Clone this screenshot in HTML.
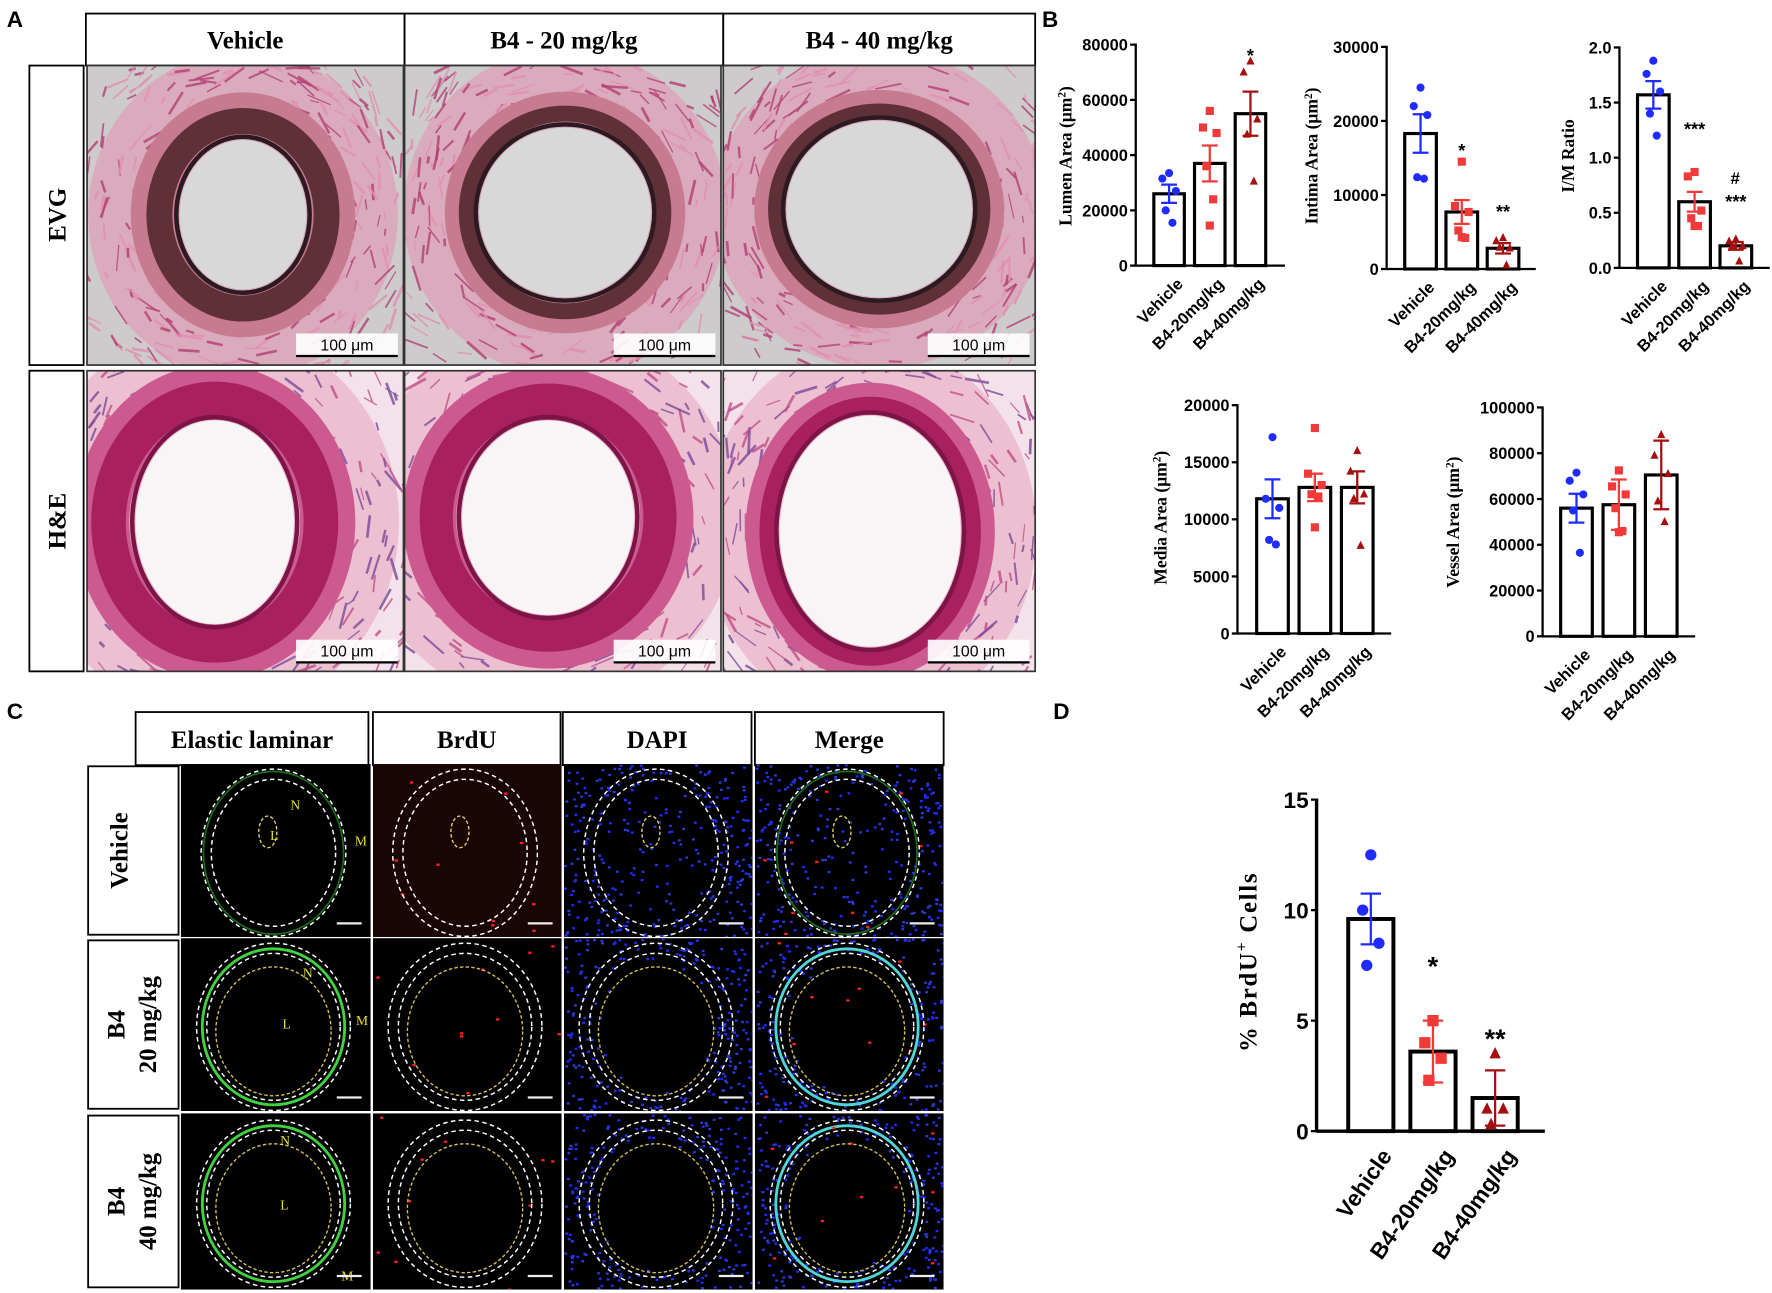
<!DOCTYPE html>
<html><head><meta charset="utf-8"><style>
html,body{margin:0;padding:0;background:#fff;}
svg{display:block;}
.plabel{font-family:"Liberation Sans",sans-serif;font-weight:bold;font-size:20px;}
</style></head><body>
<svg id="fig" xmlns="http://www.w3.org/2000/svg" width="1772" height="1293" viewBox="0 0 1568 1144" preserveAspectRatio="none">
<rect x="0" y="0" width="1568" height="1144" fill="#fff"/>
<g id="panelA"></g>
<g id="panelC"></g>
<g id="charts"></g>
<text class="plabel" x="6" y="24">A</text>
<text class="plabel" x="922" y="24">B</text>
<text class="plabel" x="6" y="636">C</text>
<text class="plabel" x="932" y="636">D</text>
</svg>
<script>
// ---------- chart data ----------
const groups = ["Vehicle", "B4-20mg/kg", "B4-40mg/kg"];
const lumenMeans = [26000, 37000, 55000];
const lumenSem = [3300, 6500, 8000];
const lumenPts = [[33500, 31500, 27000, 20000, 15500], [56000, 50000, 48000, 36000, 24000, 14500], [74000, 70000, 53000, 47500, 30500]];
const lumenTicks = [0, 20000, 40000, 60000, 80000];
const lumenStars = ["", "", "*"];

const intimaMeans = [18300, 7700, 2800];
const intimaSem = [2600, 1600, 700];
const intimaPts = [[24500, 22000, 20800, 12400, 12200], [14500, 8500, 7700, 5200, 4200, 4300], [4200, 3800, 2800, 2900, 500]];
const intimaTicks = [0, 10000, 20000, 30000];
const intimaStars = ["", "*", "**"];

const imMeans = [1.57, 0.60, 0.20];
const imSem = [0.125, 0.09, 0.035];
const imPts = [[1.88, 1.76, 1.6, 1.4, 1.2], [0.87, 0.83, 0.52, 0.45, 0.38, 0.38], [0.26, 0.24, 0.2, 0.2, 0.06]];
const imTicks = [0.0, 0.5, 1.0, 1.5, 2.0];
const imStars = ["", "***", "***"];

const mediaMeans = [11800, 12800, 12800];
const mediaSem = [1700, 1200, 1400];
const mediaPts = [[17200, 11800, 11000, 8200, 7800], [18000, 14000, 13000, 12200, 12000, 9300], [16000, 14200, 12200, 11800, 7700]];
const mediaTicks = [0, 5000, 10000, 15000, 20000];

const vesselMeans = [56000, 57500, 70500];
const vesselSem = [6300, 11000, 15000];
const vesselPts = [[71500, 68000, 62000, 55000, 36500], [72500, 65500, 62000, 56000, 46000, 45500], [88000, 79000, 71000, 59000, 50000]];
const vesselTicks = [0, 20000, 40000, 60000, 80000, 100000];

const brduMeans = [9.6, 3.6, 1.5];
const brduSem = [1.15, 1.4, 1.25];
const brduPts = [[12.5, 10.0, 8.5, 7.5], [5.0, 4.0, 3.3, 2.3], [3.5, 1.0, 1.0, 0.3]];
const brduTicks = [0, 5, 10, 15];
const brduStars = ["", "*", "**"];

const NS = "http://www.w3.org/2000/svg";
function mk(tag, attrs, parent) {
  const e = document.createElementNS(NS, tag);
  for (const k in attrs) e.setAttribute(k, attrs[k]);
  if (parent) parent.appendChild(e);
  return e;
}
const colors = ["#1f2bff", "#f03a3a", "#a50f0f"];
const jit = [0, -6, 6, -3, 3, 0];

function drawChart(o) {
  const g = mk("g", {}, document.getElementById("charts"));
  
  
  const ys = v => o.y0 - v / o.ymax * (o.y0 - o.ytop);
  const fs = o.big ? 20 : 14.5;
  const ya = mk("line", {x1: o.xa, y1: o.ytop - 1, x2: o.xa, y2: o.y0 + 1, stroke: "#000", "stroke-width": o.big ? 3 : 2}, g);
  
  
  const xa = mk("line", {x1: o.xa, y1: o.y0, x2: o.xb, y2: o.y0, stroke: "#000", "stroke-width": o.big ? 3 : 2}, g);
  
  
  o.ticks.forEach(t => {
    const y = ys(t);
    mk("line", {x1: o.xa - 5, y1: y, x2: o.xa, y2: y, stroke: "#000", "stroke-width": 2}, g);
    const tx = mk("text", {x: o.xa - 7, y: y + fs * 0.36, "text-anchor": "end", "font-family": "Liberation Sans, sans-serif", "font-weight": "bold", "font-size": fs}, g);
    tx.textContent = o.fmt ? o.fmt(t) : t;
    
    
  });
  groups.forEach((grp, i) => {
    const x = o.bs + i * o.step, cx = x + o.bw / 2;
    const b = mk("rect", {x: x, y: ys(o.means[i]), width: o.bw, height: o.y0 - ys(o.means[i]), fill: "#fff", stroke: "#000", "stroke-width": o.big ? 3.5 : 2.8}, g);
    
    
    const c = colors[i];
    o.pts[i].forEach((v, j) => {
      const px = cx + jit[j % jit.length] * (o.big ? 1.2 : 1), py = ys(v);
      const r = o.big ? 5 : 3.6;
      let m;
      if (i === 0) m = mk("circle", {cx: px, cy: py, r: r, fill: c}, g);
      else if (i === 1) m = mk("rect", {x: px - r, y: py - r, width: 2 * r, height: 2 * r, fill: c}, g);
      else m = mk("polygon", {points: `${px},${py - r * 1.2} ${px - r},${py + r * 0.8} ${px + r},${py + r * 0.8}`, fill: c}, g);
      
      
    });
    const hi = ys(o.means[i] + o.sem[i]), lo = ys(o.means[i] - o.sem[i]);
    const cw = o.big ? 9 : 7;
    const eb = mk("path", {d: `M${cx},${hi}V${lo}M${cx - cw},${hi}H${cx + cw}M${cx - cw},${lo}H${cx + cw}`, stroke: c, "stroke-width": 2, fill: "none"}, g);
    
    
    if (o.stars && o.stars[i]) {
      const st = mk("text", {x: cx, y: ys(o.means[i] + o.sem[i]) - o.starOff[i], "text-anchor": "middle", "font-family": "Liberation Sans, sans-serif", "font-weight": "bold", "font-size": o.big ? 24 : 16}, g);
      st.textContent = o.stars[i];
      
      
    }
    const lx = cx + (o.big ? 8 : 6), ly = o.y0 + (o.big ? 14 : 10);
    const tl = mk("text", {x: lx, y: ly, "text-anchor": "end", transform: `rotate(${o.big ? -55 : -45} ${lx} ${ly})`, "font-family": "Liberation Sans, sans-serif", "font-weight": "bold", "font-size": o.big ? 20 : 14.5, dy: "0.7em"}, g);
    tl.textContent = grp;
    
    
  });
  const t = mk("text", {x: o.tx, y: o.ty, "text-anchor": "middle", transform: `rotate(-90 ${o.tx} ${o.ty})`, "font-family": "Liberation Serif, serif", "font-weight": "bold", "font-size": o.big ? 22 : 15.5, "letter-spacing": o.big ? 1.5 : 0}, g);
  t.innerHTML = o.title;
  
  
  return {g, ys};
}
const mu = 'Area (μm<tspan dy="-5" font-size="10">2</tspan><tspan dy="5">)</tspan>';
drawChart({name: "lumen-area-chart", xa: 1005, xb: 1137, ytop: 39.5, y0: 235, ymax: 80000, ticks: lumenTicks, bs: 1021, step: 36, bw: 27, means: lumenMeans, sem: lumenSem, pts: lumenPts, stars: lumenStars, starOff: [0, 0, 26], tx: 948, ty: 138, title: "Lumen " + mu});
drawChart({name: "intima-area-chart", xa: 1227, xb: 1359, ytop: 41.5, y0: 238, ymax: 30000, ticks: intimaTicks, bs: 1243, step: 36.5, bw: 28, means: intimaMeans, sem: intimaSem, pts: intimaPts, stars: intimaStars, starOff: [0, 38, 22], tx: 1166, ty: 138, title: "Intima " + mu});
const im = drawChart({name: "im-ratio-chart", xa: 1433, xb: 1566, ytop: 42, y0: 237, ymax: 2.0, ticks: imTicks, fmt: v => v.toFixed(1), bs: 1449, step: 36.5, bw: 28, means: imMeans, sem: imSem, pts: imPts, stars: imStars, starOff: [0, 50, 30], tx: 1393, ty: 138, title: "I/M Ratio"});
(function(){ const h = mk("text", {x: 1535.5, y: 163, "text-anchor": "middle", "font-family": "Liberation Sans, sans-serif", "font-weight": "bold", "font-size": 15}, im.g); h.textContent = "#";

 })();
drawChart({name: "media-area-chart", xa: 1095, xb: 1231, ytop: 358.5, y0: 560.5, ymax: 20000, ticks: mediaTicks, bs: 1112, step: 37.5, bw: 28, means: mediaMeans, sem: mediaSem, pts: mediaPts, tx: 1032, ty: 458, title: "Media " + mu});
drawChart({name: "vessel-area-chart", xa: 1365, xb: 1500, ytop: 360.5, y0: 563, ymax: 100000, ticks: vesselTicks, bs: 1381, step: 37.5, bw: 28, means: vesselMeans, sem: vesselSem, pts: vesselPts, tx: 1291, ty: 462, title: "Vessel " + mu});
drawChart({name: "brdu-cells-chart", big: true, xa: 1165, xb: 1367, ytop: 707.5, y0: 1000.8, ymax: 15, ticks: brduTicks, bs: 1193, step: 55, bw: 40, means: brduMeans, sem: brduSem, pts: brduPts, stars: brduStars, starOff: [0, 40, 20], tx: 1112, ty: 851, title: '% BrdU<tspan dy="-9" font-size="14">+</tspan><tspan dy="9"> Cells</tspan>'});

// ---------- decorative histology (seeded) ----------
let seed = 7;
function rnd() { seed = (seed * 16807) % 2147483647; return seed / 2147483647; }
const A = document.getElementById("panelA");
function box(x, y, w, h, parent, name) {
  const r = mk("rect", {x, y, width: w, height: h, fill: "#fff", stroke: "#000", "stroke-width": 1.6}, parent);
  
  
  return r;
}
function label(txt, x, y, parent, rot, size, name) {
  const t = mk("text", {x, y, "text-anchor": "middle", "font-family": "Liberation Serif, serif", "font-weight": "bold", "font-size": size || 22}, parent);
  if (rot) t.setAttribute("transform", `rotate(-90 ${x} ${y})`);
  t.textContent = txt;
  
  
  return t;
}
[["Vehicle", 76, 282], ["B4 - 20 mg/kg", 358, 282], ["B4 - 40 mg/kg", 640, 276]].forEach(([t, x, w]) => {
  box(x, 12, w, 46, A, 'column-header-box');
  label(t, x + w / 2, 43, A, false, 22, 'column-header');
});
box(26, 58, 48, 265, A, 'row-header-box'); label("EVG", 58, 190, A, true, 22, 'row-header');
box(26, 328, 48, 266, A, 'row-header-box'); label("H&E", 58, 461, A, true, 22, 'row-header');
const cells = [
  {x: 77, y: 58, w: 280, h: 265, t: "evg", cx: 215, cy: 190, lr: [56, 66], or: [92, 100]},
  {x: 358, y: 58, w: 280, h: 265, t: "evg", cx: 500, cy: 188, lr: [76, 75], or: [98, 100]},
  {x: 640, y: 58, w: 276, h: 265, t: "evg", cx: 778, cy: 185, lr: [82, 78], or: [102, 96]},
  {x: 77, y: 328, w: 280, h: 266, t: "he", cx: 190, cy: 462, lr: [70, 90], or: [118, 128]},
  {x: 358, y: 328, w: 280, h: 266, t: "he", cx: 485, cy: 458, lr: [76, 86], or: [122, 122]},
  {x: 640, y: 328, w: 276, h: 266, t: "he", cx: 770, cy: 470, lr: [80, 102], or: [102, 122]}
];
cells.forEach((c, k) => {
  const g = mk("g", {}, A);
  
  
  const cid = "clip" + k;
  const cp = mk("clipPath", {id: cid}, g); mk("rect", {x: c.x, y: c.y, width: c.w, height: c.h}, cp);
  const gi = mk("g", {"clip-path": `url(#${cid})`}, g);
  const evg = c.t === "evg";
  mk("rect", {x: c.x, y: c.y, width: c.w, height: c.h, fill: evg ? "#cdcbcc" : "#f3e2e9"}, gi);
  mk("ellipse", {cx: c.cx, cy: c.cy, rx: c.or[0] + 45, ry: c.or[1] + 45, fill: evg ? "#dca5ba" : "#eab9cc", opacity: 0.85}, gi);
  for (let i = 0; i < 320; i++) {
    const a = rnd() * Math.PI * 2, rr = 0.9 + rnd() * 0.85;
    const x = c.cx + Math.cos(a) * c.or[0] * rr, y = c.cy + Math.sin(a) * c.or[1] * rr;
    const l = 6 + rnd() * 18, d = a + Math.PI / 2 + (rnd() - 0.5);
    mk("line", {x1: x, y1: y, x2: x + Math.cos(d) * l, y2: y + Math.sin(d) * l, stroke: evg ? (rnd() < 0.5 ? "#b33f73" : "#e28fb0") : (rnd() < 0.5 ? "#c24e86" : "#7a4a9a"), "stroke-width": 1 + rnd() * 1.5, opacity: 0.8}, gi);
  }
  const mr = [(c.lr[0] + c.or[0]) / 2, (c.lr[1] + c.or[1]) / 2];
  const mw = (c.or[0] - c.lr[0]) * 0.85;
  mk("ellipse", {cx: c.cx, cy: c.cy, rx: mr[0] + 6, ry: mr[1] + 6, fill: "none", stroke: evg ? "#c77b90" : "#cc5a8f", "stroke-width": mw + 8}, gi);
  mk("ellipse", {cx: c.cx, cy: c.cy, rx: mr[0], ry: mr[1], fill: "none", stroke: evg ? "#5f3038" : "#a8215e", "stroke-width": mw * 0.75}, gi);
  mk("ellipse", {cx: c.cx, cy: c.cy, rx: c.lr[0] + 3, ry: c.lr[1] + 3, fill: "none", stroke: evg ? "#2b1a1f" : "#7d1446", "stroke-width": 4}, gi);
  mk("ellipse", {cx: c.cx, cy: c.cy, rx: c.lr[0], ry: c.lr[1], fill: evg ? "#d9d8d9" : "#f8f5f6"}, gi);
  const bx = c.x + c.w - 95, by = c.y + c.h - 8;
  mk("rect", {x: bx, y: by - 20, width: 90, height: 20, fill: "#fff", opacity: 0.9}, gi);
  mk("line", {x1: bx, y1: by, x2: bx + 90, y2: by, stroke: "#000", "stroke-width": 2}, gi);
  const st = mk("text", {x: bx + 45, y: by - 5, "text-anchor": "middle", "font-family": "Liberation Sans, sans-serif", "font-size": 14}, gi);
  st.textContent = "100 μm";
  
  
  mk("rect", {x: c.x, y: c.y, width: c.w, height: c.h, fill: "none", stroke: "#333", "stroke-width": 1.5}, g);
});

// ---------- panel C ----------
const C = document.getElementById("panelC");
[["Elastic laminar", 120, 206], ["BrdU", 330, 166], ["DAPI", 498, 167], ["Merge", 668, 167]].forEach(([t, x, w]) => {
  box(x, 630, w, 47, C, 'column-header-box');
  label(t, x + w / 2, 662, C, false, 22, 'column-header');
});
const rowsC = [["Vehicle", 676, 153], ["B4|20 mg/kg", 830, 153], ["B4|40 mg/kg", 985, 156]];
rowsC.forEach(([t, y, h], ri) => {
  box(78, y + 2, 80, h - 4, C, 'row-header-box');
  const parts = t.split("|");
  if (parts.length === 1) label(parts[0], 113, y + h / 2, C, true, 22, 'row-header');
  else { label(parts[0], 110, y + h / 2, C, true, 22, 'row-header'); label(parts[1], 138, y + h / 2, C, true, 22, 'row-header'); }
  const cols = [[160, 168], [330, 167], [499, 167], [668, 167]];
  cols.forEach(([x, w], ci) => {
    const g = mk("g", {}, C);
    
    
    const cid = "cc" + ri + ci;
    const cp = mk("clipPath", {id: cid}, g); mk("rect", {x, y, width: w, height: h}, cp);
    const gi = mk("g", {"clip-path": `url(#${cid})`}, g);
    mk("rect", {x, y, width: w, height: h, fill: ci === 1 && ri === 0 ? "#1a0505" : "#000"}, gi);
    const cx = x + w / 2 - 2, cy = y + h / 2 + 2;
    const rx = ri === 0 ? 64 : 68, ry = 74;
    if (ci >= 2) {
      for (let i = 0; i < 420; i++) {
        const px = x + rnd() * w, py = y + rnd() * h;
        const dx = (px - cx) / (rx - 10), dy = (py - cy) / (ry - 10);
        const inside = dx * dx + dy * dy < 1;
        if (inside && ri > 0 && dx * dx + dy * dy < 0.75) continue;
        if (inside && rnd() < 0.55) continue;
        mk("rect", {x: px, y: py, width: 2.5, height: 2, fill: rnd() < 0.5 ? "#1d2cff" : "#2a3bd8"}, gi);
      }
    }
    if (ci === 0 || ci === 3) {
      if (ri > 0) mk("ellipse", {cx, cy, rx: rx - 5, ry: ry - 5, fill: "none", stroke: ci === 0 ? "#3fd43f" : "#4fd6d6", "stroke-width": 2.5}, gi);
      else mk("ellipse", {cx, cy, rx: rx - 2, ry: ry - 2, fill: "none", stroke: "#1c6b1c", "stroke-width": 1.5}, gi);
    }
    if (ci === 1 || ci === 3) {
      for (let i = 0; i < 10; i++) mk("rect", {x: x + rnd() * w, y: y + rnd() * h, width: 3, height: 2, fill: "#ff2020"}, gi);
    }
    mk("ellipse", {cx, cy, rx: rx, ry: ry, fill: "none", stroke: "#fff", "stroke-width": 1.3, "stroke-dasharray": "4 3"}, gi);
    mk("ellipse", {cx, cy, rx: rx - 9, ry: ry - 9, fill: "none", stroke: "#fff", "stroke-width": 1.3, "stroke-dasharray": "4 3"}, gi);
    if (ri === 0) mk("ellipse", {cx: x + 77, cy: y + 60, rx: 8, ry: 14, fill: "none", stroke: "#e6d36a", "stroke-width": 1.2, "stroke-dasharray": "3 2"}, gi);
    else mk("ellipse", {cx, cy: cy + 4, rx: rx - 17, ry: ry - 17, fill: "none", stroke: "#d9c25a", "stroke-width": 1.2, "stroke-dasharray": "3 2"}, gi);
    if (ci === 0) {
      const lbl = ri === 0 ? [["N", x + 97, y + 40], ["L", x + 79, y + 67], ["M", x + 154, y + 72]] : [["N", x + 108, y + 35], ["L", x + 90, y + 80], ["M", x + 155, y + 77]];
      if (ri === 2) { lbl[0] = ["N", x + 88, y + 28]; lbl[1] = ["L", x + 88, y + 85]; lbl[2] = ["M", x + 142, y + 148]; }
      lbl.forEach(([s, lx, ly]) => { const tt = mk("text", {x: lx, y: ly, fill: "#e8e030", "font-family": "Liberation Serif, serif", "font-size": 12}, gi); tt.textContent = s;
        
         });
    }
    mk("line", {x1: x + w - 30, y1: y + h - 12, x2: x + w - 8, y2: y + h - 12, stroke: "#eee", "stroke-width": 2}, gi);
  });
});
</script>
</body></html>
